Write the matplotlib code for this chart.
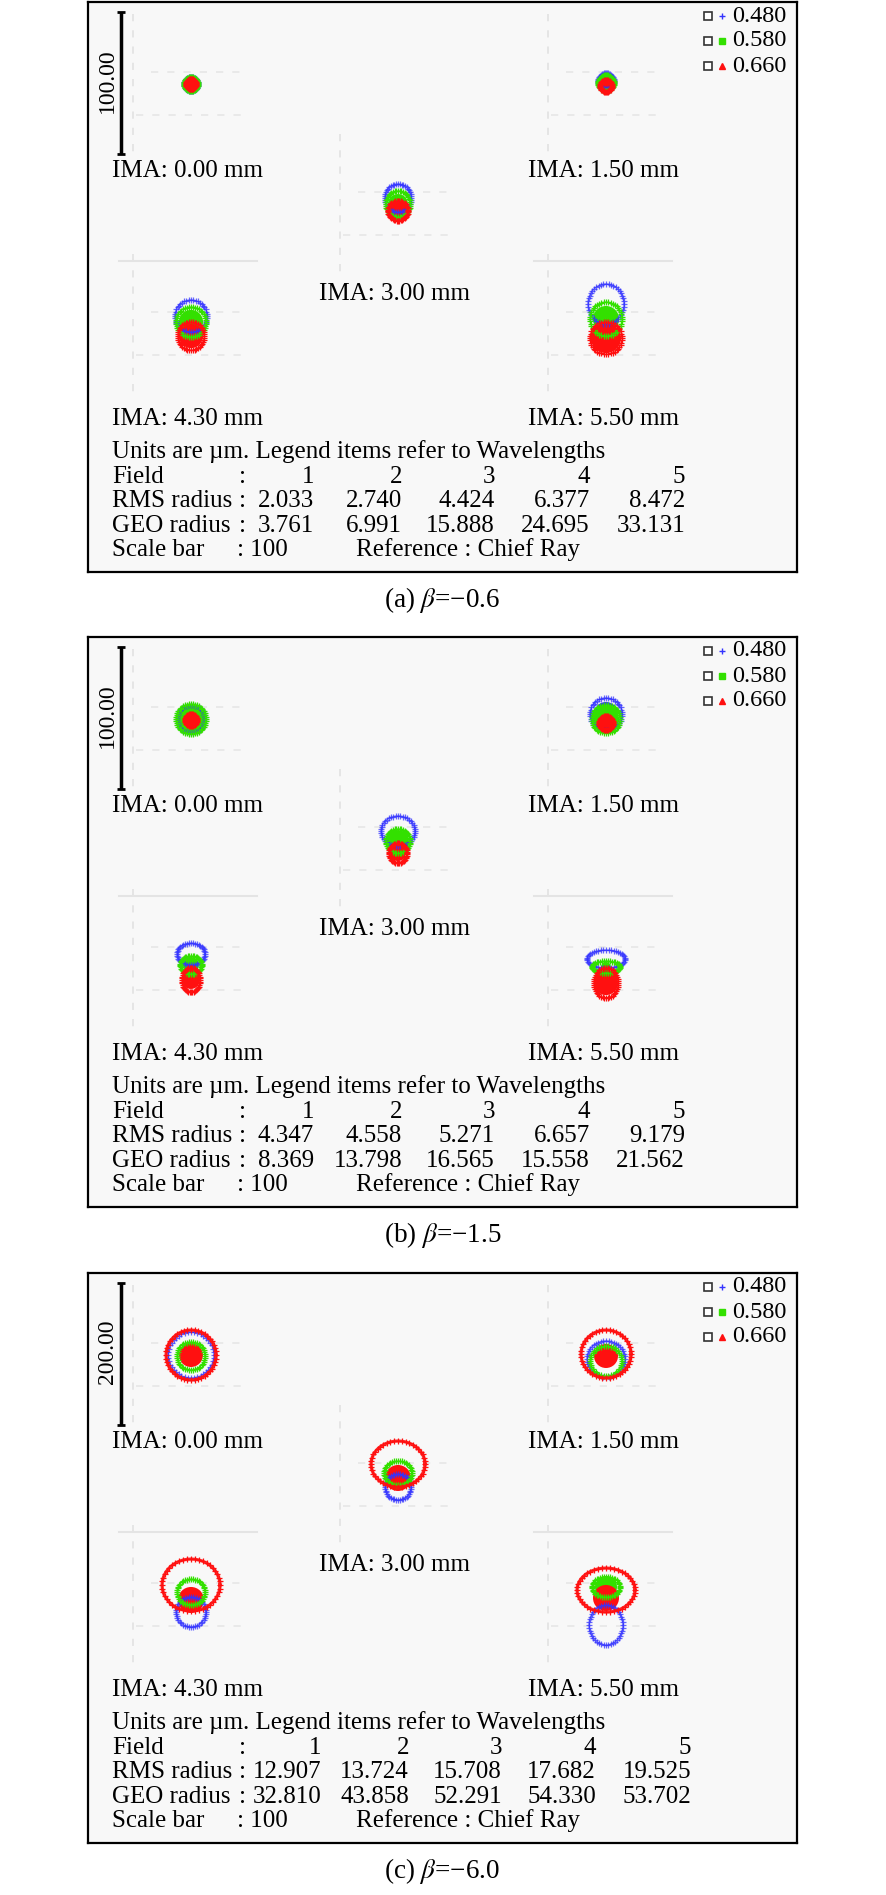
import numpy as np
import matplotlib.pyplot as plt
from matplotlib.patches import Ellipse

plt.rcParams['font.family'] = ['Liberation Serif', 'DejaVu Serif']
plt.rcParams['mathtext.fontset'] = 'stix'

# ---- data -------------------------------------------------------------
panel_tags = ["(a)", "(b)", "(c)"]
betas = ["\u22120.6", "\u22121.5", "\u22126.0"]
scale_bar_um = [100, 100, 200]
scale_text = ["100.00", "100.00", "200.00"]
field_labels = ["IMA: 0.00 mm", "IMA: 1.50 mm", "IMA: 3.00 mm",
                "IMA: 4.30 mm", "IMA: 5.50 mm"]
wavelengths = ["0.480", "0.580", "0.660"]
wave_colors = ["#3434ff", "#33e000", "#ff1010"]
wave_markers = ["+", "s", "^"]
field_nums = ["1", "2", "3", "4", "5"]

rms_radius = [["2.033", "2.740", "4.424", "6.377", "8.472"],
              ["4.347", "4.558", "5.271", "6.657", "9.179"],
              ["12.907", "13.724", "15.708", "17.682", "19.525"]]
geo_radius = [["3.761", "6.991", "15.888", "24.695", "33.131"],
              ["8.369", "13.798", "16.565", "15.558", "21.562"],
              ["32.810", "43.858", "52.291", "54.330", "53.702"]]

# spot footprint per field and wavelength (um, y downwards):
# ring_dy, ring_rx, ring_ry, core_dy, core_r
spots_a = [
    [(0, 4.9, 4.9, 0, 3.5), (0, 4.9, 4.9, 0, 4.2), (0, 3.5, 3.5, 0, 3.5)],
    [(-2.1, 5.6, 5.6, -2.1, 4.2), (-0.7, 5.6, 5.6, -0.7, 4.9), (1.4, 4.2, 4.2, 1.4, 4.2)],
    [(-4.2, 9.2, 9.9, -4.2, 0), (0, 8.5, 9.2, 0, 7.0), (4.9, 7.0, 7.0, 4.9, 6.3)],
    [(-5.6, 11.3, 11.3, -5.6, 0), (-1.4, 10.6, 10.6, -1.4, 8.5), (8.5, 9.2, 9.9, 8.5, 8.5)],
    [(-14.1, 12.7, 14.1, -14.1, 0), (-3.5, 11.3, 12.0, -3.5, 9.2), (9.9, 11.3, 11.3, 9.9, 10.6)],
]
spots_b = [
    [(0, 9.9, 9.9, 0, 7.0), (0, 10.6, 10.6, 0, 9.9), (0.7, 4.2, 4.2, 0.7, 3.5)],
    [(-3.5, 11.3, 11.3, -3.5, 8.5), (0, 9.9, 9.9, 0, 9.2), (2.8, 4.9, 4.9, 2.8, 4.2)],
    [(-5.6, 12.0, 10.6, -5.6, 0), (1.4, 8.5, 8.5, 1.4, 7.7), (9.9, 6.3, 7.0, 9.9, 5.6)],
    [(-3.5, 9.9, 7.7, -3.5, 0), (4.2, 7.7, 6.3, 4.2, 5.6), (14.8, 6.3, 8.5, 14.8, 6.3)],
    [(0, 13.4, 6.3, 0, 0), (5.6, 9.9, 4.2, 5.6, 3.5), (16.9, 8.5, 10.6, 16.9, 8.5)],
]
spots_c = [
    [(0, 32.4, 32.4, 0, 0), (1.4, 19.7, 19.7, 1.4, 0), (0, 35.2, 35.2, 0, 16.9)],
    [(5.6, 26.8, 25.4, 5.6, 0), (8.5, 22.5, 21.1, 8.5, 0), (-1.4, 35.2, 33.8, 1.4, 16.9)],
    [(16.9, 18.3, 18.3, 16.9, 0), (-2.8, 19.7, 16.9, -2.8, 0), (-15.5, 38.0, 32.4, 4.2, 18.3)],
    [(23.9, 21.1, 21.1, 23.9, 0), (-4.2, 19.7, 18.3, -4.2, 0), (-14.1, 40.8, 36.6, 7.0, 18.3)],
    [(42.3, 23.9, 28.2, 42.3, 0), (-11.3, 19.7, 14.1, -11.3, 15.5), (-7.0, 40.8, 31.0, 4.2, 18.3)],
]
spots = [spots_a, spots_b, spots_c]

# ---- layout (pixels of the 886 x 1895 output) -------------------------
W, H = 886, 1895
box_left, box_w, box_h = 88, 709, 570
box_tops = [2, 637, 1273]
bar_px = 142
chief = [(103, 82), (518, 82), (310, 202), (103, 322), (518, 322)]
label_xy = [(24, 169), (440, 169), (231, 292), (24, 417), (440, 417)]
rows_y = [450, 475, 499, 524, 548]
cols_x = [[226, 314, 407, 502, 597],
          [226, 314, 407, 502, 597],
          [233, 321, 414, 508, 603]]
FS = 18

fig = plt.figure(figsize=(W / 100, H / 100), dpi=100)
t = np.linspace(0, 2 * np.pi, 44, endpoint=False)

for p in range(3):
    top = box_tops[p]
    ax = fig.add_axes([box_left / W, 1 - (top + box_h) / H, box_w / W, box_h / H])
    ax.set_xlim(0, box_w)
    ax.set_ylim(box_h, 0)
    ax.set_facecolor("#f8f8f8")
    ax.set_xticks([])
    ax.set_yticks([])
    for s in ax.spines.values():
        s.set_linewidth(1.6)
        s.set_color("black")

    # faint sub-frame remnants
    for (cx, cy) in chief:
        ax.plot([cx - 58, cx - 58], [cy - 70, cy + 72], color="#e4e4e4", lw=1.3, ls=(0, (4, 5)))
        ax.plot([cx - 40, cx + 50], [cy - 12, cy - 12], color="#e8e8e8", lw=1.3, ls=(0, (4, 5)))
        ax.plot([cx - 55, cx + 50], [cy + 31, cy + 31], color="#e8e8e8", lw=1.3, ls=(0, (4, 5)))
    for (cx, cy) in chief[3:]:
        ax.plot([cx - 72, cx + 66], [cy - 63, cy - 63], color="#e4e4e4", lw=1.5)

    # scale bar
    ax.plot([33, 33], [10, 10 + bar_px], color="black", lw=2.5,
            marker="_", ms=6, mew=2, solid_capstyle="butt")
    ax.text(19, 10 + bar_px / 2 - 2, scale_text[p], rotation=90, ha="center",
            va="center", fontsize=17)

    # field labels
    for (lx, ly), lab in zip(label_xy, field_labels):
        ax.text(lx, ly, lab, ha="left", va="center", fontsize=FS)

    # legend
    for w in range(3):
        ly = 14 + 25 * w
        ax.plot(620, ly, marker="s", ms=6, mfc="white", mec="#333333", mew=1.2)
        ax.plot(634, ly, marker=wave_markers[w], ms=4, color=wave_colors[w])
        ax.text(644, ly, wavelengths[w], ha="left", va="center", fontsize=17.5)

    # text block
    ax.text(24, rows_y[0], "Units are \u00b5m. Legend items refer to Wavelengths",
            ha="left", va="center", fontsize=FS)
    for r, name in zip(rows_y[1:4], ["Field", "RMS radius", "GEO radius"]):
        ax.text(24, r, name, ha="left", va="center", fontsize=FS)
        ax.text(151, r, ":", ha="left", va="center", fontsize=FS)
    for c in range(5):
        ax.text(cols_x[p][c], rows_y[1], field_nums[c], ha="right", va="center", fontsize=FS)
        ax.text(cols_x[p][c], rows_y[2], rms_radius[p][c], ha="right", va="center", fontsize=FS)
        ax.text(cols_x[p][c], rows_y[3], geo_radius[p][c], ha="right", va="center", fontsize=FS)
    ax.text(24, rows_y[4], "Scale bar", ha="left", va="center", fontsize=FS)
    ax.text(149, rows_y[4], ": 100", ha="left", va="center", fontsize=FS)
    ax.text(268, rows_y[4], "Reference : Chief Ray", ha="left", va="center", fontsize=FS)

    # caption
    ax.text(box_w / 2, 598, panel_tags[p] + r" $\beta$=" + betas[p],
            ha="center", va="center", fontsize=19.5)

    # spots, each in its own axes measured in micrometres
    k = bar_px / scale_bar_um[p]
    R = 70
    for f, (cx, cy) in enumerate(chief):
        sx = fig.add_axes([(box_left + cx - R) / W, 1 - (top + cy + R) / H,
                           2 * R / W, 2 * R / H])
        sx.set_xlim(-R / k, R / k)
        sx.set_ylim(R / k, -R / k)
        sx.axis("off")
        for w in range(3):
            dy, rx, ry, cdy, cr = spots[p][f][w]
            col = wave_colors[w]
            xs = rx * np.cos(t)
            ys = dy + ry * np.sin(t)
            heavy = w == 2 and cr > 0 and rx * k > 20
            sx.plot(np.append(xs, xs[0]), np.append(ys, ys[0]), color=col,
                    lw=2.2 if heavy else 1.0, alpha=0.9 if heavy else 0.6)
            sx.plot(xs, ys, ls="none", marker="+", ms=4, mew=0.9, color=col,
                    alpha=1.0 if w else 0.75)
            if cr > 0:
                sx.add_patch(Ellipse((0, cdy), 2 * cr, 2 * cr, color=col, lw=0))

fig.savefig("out.png", dpi=100, facecolor="white")
